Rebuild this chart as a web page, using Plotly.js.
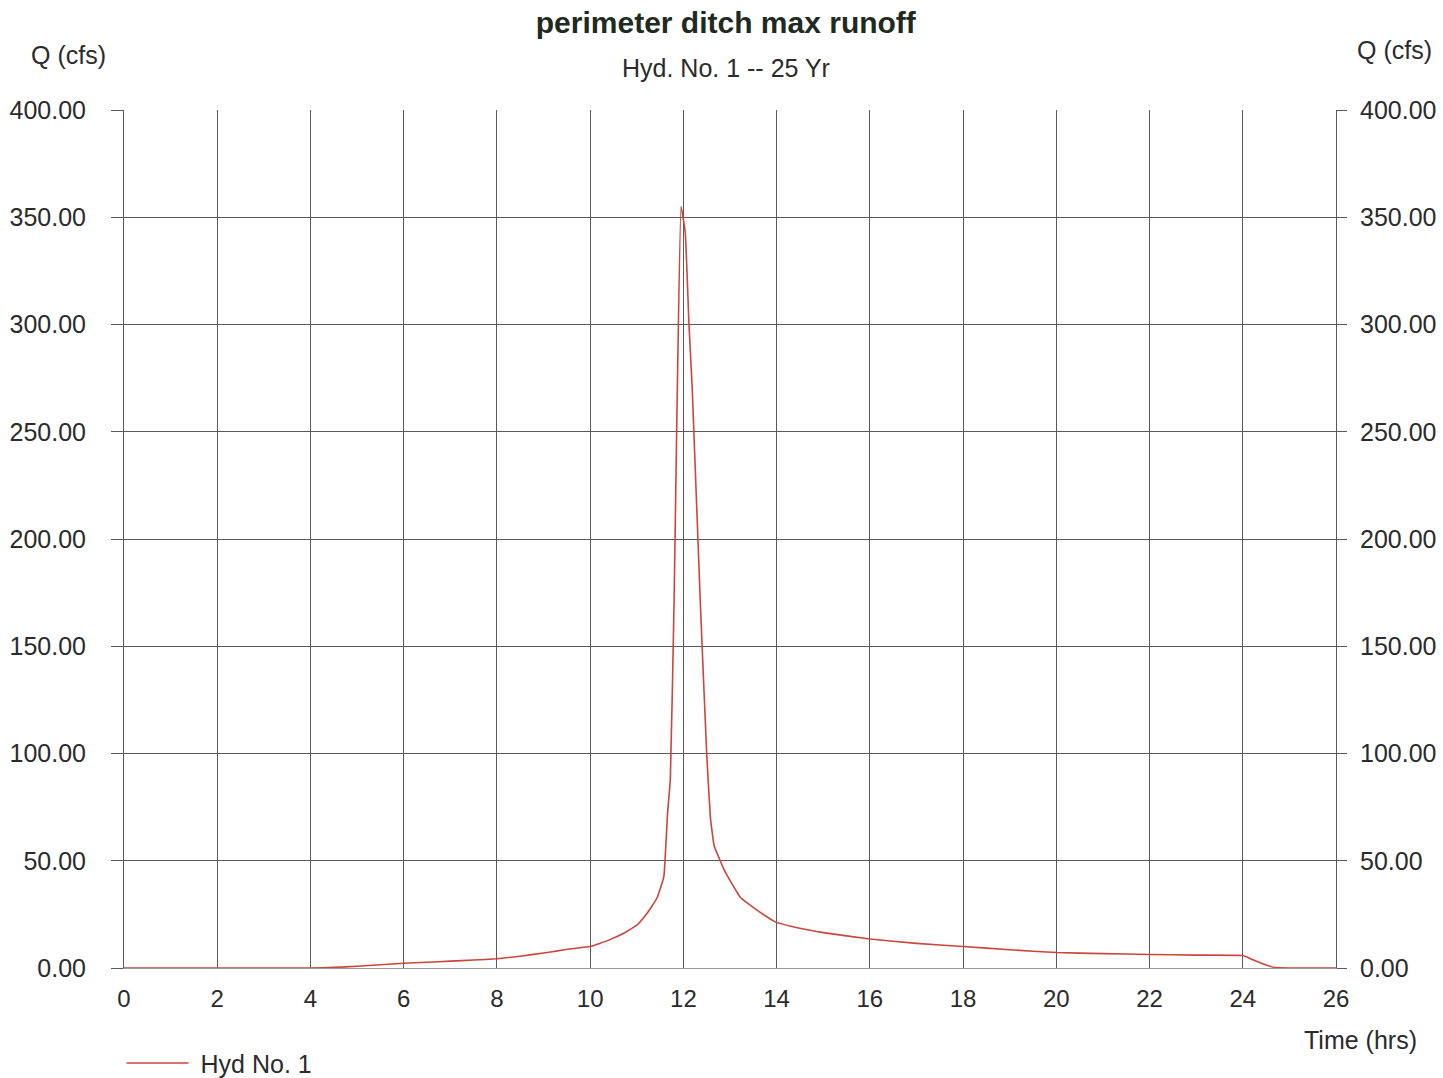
<!DOCTYPE html>
<html>
<head>
<meta charset="utf-8">
<script src="https://cdn.plot.ly/plotly-3.0.1.min.js"></script>
<style>html,body{margin:0;padding:0;background:#fff;}#chart{width:1443px;height:1078px;}</style>
</head>
<body>
<div id="chart"></div>
<script>
// Time (hrs)
const timeHrs = [0, 1, 2, 3, 4, 4.5, 5, 5.5, 6, 6.5, 7, 7.5, 8, 8.5, 9, 9.3, 9.6, 10, 10.4, 10.73, 11.0, 11.16, 11.3, 11.44, 11.58, 11.66, 11.72, 11.8, 11.87, 11.95, 12.04, 12.12, 12.19, 12.36, 12.5, 12.58, 12.66, 12.87, 13.05, 13.22, 13.58, 13.97, 14.5, 15, 16, 17, 18, 19, 20, 21, 22, 23, 24, 24.2, 24.5, 24.7, 25, 26];
// Discharge Q (cfs)
const flowCfs = [0, 0, 0, 0, 0, 0.3, 0.8, 1.5, 2.2, 2.7, 3.2, 3.7, 4.3, 5.5, 7, 8, 9, 10, 13, 16.3, 20, 23.8, 28, 33, 42.5, 72, 88, 170, 270, 355, 343, 300, 270, 172, 100, 70, 57, 46, 39, 33, 27, 21.5, 18.5, 16.5, 13.5, 11.5, 10, 8.5, 7.2, 6.7, 6.3, 6, 5.8, 4, 1.4, 0.2, 0, 0];
const xTicks = [0, 2, 4, 6, 8, 10, 12, 14, 16, 18, 20, 22, 24, 26];
const yTicks = [0, 50, 100, 150, 200, 250, 300, 350, 400];
const seriesName = '\u00a0Hyd No. 1';

const FONT = 'Liberation Sans, Arial, sans-serif';
const TXT = '#2b2b2b';
const GRID = '#5a5a5a';

const traces = [
  {x: timeHrs, y: flowCfs, type: 'scatter', mode: 'lines', name: seriesName,
   line: {color: '#c9473d', width: 1.6, shape: 'spline', smoothing: 0.3}},
  {x: [timeHrs[0]], y: [flowCfs[0]], yaxis: 'y2', type: 'scatter', mode: 'lines',
   showlegend: false, hoverinfo: 'skip', line: {color: 'rgba(0,0,0,0)'}}
];

const layout = {
  width: 1443, height: 1078,
  paper_bgcolor: '#fff', plot_bgcolor: '#fff',
  margin: {l: 124, r: 107, t: 110, b: 110, autoexpand: false},
  font: {family: FONT, color: TXT},
  title: {text: 'perimeter ditch max runoff', font: {family: FONT, size: 30, color: '#1f2a22', weight: 'bold'},
          x: 0.503, xanchor: 'center', y: 1 - 22/1078, yanchor: 'middle', yref: 'container'},
  showlegend: true,
  legend: {x: -0.002, xanchor: 'left', y: -0.111, yanchor: 'middle', orientation: 'h',
           font: {family: FONT, size: 25, color: TXT}, itemwidth: 62, bgcolor: 'rgba(0,0,0,0)'},
  xaxis: {range: [0, 26], tickvals: xTicks, ticktext: xTicks.map(String),
          showgrid: true, gridcolor: GRID, gridwidth: 1, zeroline: false,
          showline: true, linecolor: '#9a9a9a', linewidth: 1, mirror: false,
          ticks: '', ticklabelstandoff: 9, tickfont: {family: FONT, size: 24, color: TXT}, fixedrange: true},
  yaxis: {range: [0, 400], tickvals: yTicks, tickformat: '.2f',
          showgrid: true, gridcolor: GRID, gridwidth: 1, zeroline: false,
          showline: true, linecolor: GRID, linewidth: 1,
          ticks: 'outside', ticklen: 12, tickcolor: GRID, tickwidth: 1, ticklabelstandoff: 20,
          tickfont: {family: FONT, size: 25, color: TXT}, fixedrange: true},
  yaxis2: {range: [0, 400], tickvals: yTicks, tickformat: '.2f', overlaying: 'y', side: 'right',
           showgrid: false, zeroline: false, showline: true, linecolor: GRID, linewidth: 1,
           ticks: 'outside', ticklen: 10, tickcolor: GRID, tickwidth: 1, ticklabelstandoff: 8,
           tickfont: {family: FONT, size: 25, color: TXT}, fixedrange: true},
  annotations: [
    {text: 'Hyd. No. 1 -- 25 Yr', xref: 'paper', yref: 'paper', x: 0.497, y: (968-68)/858,
     xanchor: 'center', yanchor: 'middle', showarrow: false, font: {family: FONT, size: 25, color: TXT}},
    {text: 'Q (cfs)', xref: 'paper', yref: 'paper', x: (68-124)/1212, y: (968-55)/858,
     xanchor: 'center', yanchor: 'middle', showarrow: false, font: {family: FONT, size: 25, color: TXT}},
    {text: 'Q (cfs)', xref: 'paper', yref: 'paper', x: (1395-124)/1212, y: (968-50)/858,
     xanchor: 'center', yanchor: 'middle', showarrow: false, font: {family: FONT, size: 25, color: TXT}},
    {text: 'Time (hrs)', xref: 'paper', yref: 'paper', x: (1360-124)/1212, y: (968-1040)/858,
     xanchor: 'center', yanchor: 'middle', showarrow: false, font: {family: FONT, size: 25, color: TXT}}
  ]
};

Plotly.newPlot('chart', traces, layout, {displayModeBar: false, staticPlot: true});
</script>
</body>
</html>
